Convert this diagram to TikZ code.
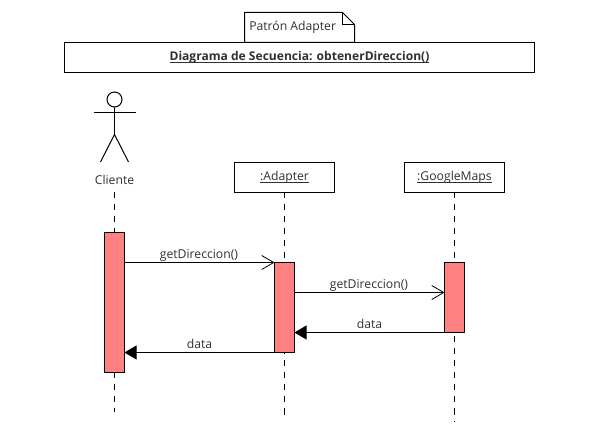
\documentclass[tikz,border=0pt]{standalone}
\usepackage{fontspec}
\setmainfont{Open Sans}
\usetikzlibrary{arrows.meta}
\definecolor{act}{HTML}{FF8080}
\definecolor{txt}{HTML}{303030}
\newcommand\ulx[1]{\leavevmode\setbox0\hbox{#1}\rlap{\rule[-1.4pt]{\wd0}{0.55pt}}\box0}
\tikzset{
  x=0.75pt,y=-0.75pt,
  base/.style={line width=0.75pt,draw=black},
  boxn/.style={base,fill=white,inner sep=0pt,outer sep=0pt,minimum width=75pt,minimum height=22.5pt,text=txt,font=\fontsize{9.15}{11}\selectfont,anchor=north west},
  activ/.style={base,fill=act,inner sep=0pt,outer sep=0pt,minimum width=15pt,anchor=north west},
  lifeline/.style={base,dash pattern=on 4.5pt off 4.5pt},
  callm/.style={base,-{Straight Barb[length=9pt,width=10.5pt,line width=0.6pt]}},
  retm/.style={base,-{Triangle[length=9pt,width=10.5pt]}},
  lbl/.style={text=txt,font=\fontsize{9.15}{11}\selectfont,inner sep=0pt,text depth=0pt},
}
\begin{document}
\begin{tikzpicture}
\useasboundingbox (0,0) rectangle (593,445);
% lifelines
\coordinate (e1) at (114.5,412);
\coordinate (e2) at (284.5,418);
\coordinate (e3) at (454.5,422);
\coordinate (s1) at (114.5,192.5);
\node[boxn] (adapter) at (234.5,162.5) {\ulx{:Adapter}};
\node[boxn] (maps) at (404.5,162.5) {\ulx{:GoogleMaps}};
\draw[lifeline] (s1) -- (e1);
\draw[lifeline] (adapter.south) -- (e2);
\draw[lifeline] (maps.south) -- (e3);
% note and title
\draw[base,fill=white] (244.5,42.5) -- (244.5,12.5) -- (342.5,12.5) -- (354.5,24.5) -- (354.5,42.5) -- cycle;
\draw[base] (342.5,12.5) -- (342.5,24.5) -- (354.5,24.5);
\node[lbl,anchor=west] (note) at (249,25.5) {Patrón Adapter};
\node[boxn,minimum width=352.5pt,font=\fontsize{9.05}{11}\selectfont\bfseries] (title) at (64.5,42.5) {\ulx{Diagrama de Secuencia: obtenerDireccion()}};
% actor
\node[base,circle,minimum size=11.25pt,inner sep=0pt,outer sep=0pt] (head) at (114.5,99.5) {};
\coordinate (hip) at (114.5,134.5);
\coordinate (armL) at (93.5,113);
\coordinate (armR) at (135.5,113);
\coordinate (legL) at (100.5,162);
\coordinate (legR) at (128.5,162);
\draw[base] (head.south) -- (hip);
\draw[base] (armL) -- (armR);
\draw[base] (legL) -- (hip) -- (legR);
\node[lbl] (cliente) at (114.5,180) {Cliente};
% activations
\node[activ,minimum height=105pt] (a1) at (104.5,232.5) {};
\node[activ,minimum height=67.5pt] (a2) at (274.5,262.5) {};
\node[activ,minimum height=52.5pt] (a3) at (444.5,262.5) {};
% messages
\coordinate (m2) at (0,292.5);
\draw[callm] (a1.east |- a2.north) -- (a2.north west) node[lbl,pos=0.5,above=2.4pt,xshift=-0.4pt] {getDireccion()};
\draw[callm] (a2.east |- m2) -- (a3.west |- m2) node[lbl,pos=0.5,above=2.4pt,xshift=-0.4pt] {getDireccion()};
\draw[retm] (a3.south west) -- (a2.east |- a3.south) node[lbl,pos=0.5,above=2.4pt] {data};
\draw[retm] (a2.south west) -- (a1.east |- a2.south) node[lbl,pos=0.5,above=2.4pt] {data};
\end{tikzpicture}
\end{document}
